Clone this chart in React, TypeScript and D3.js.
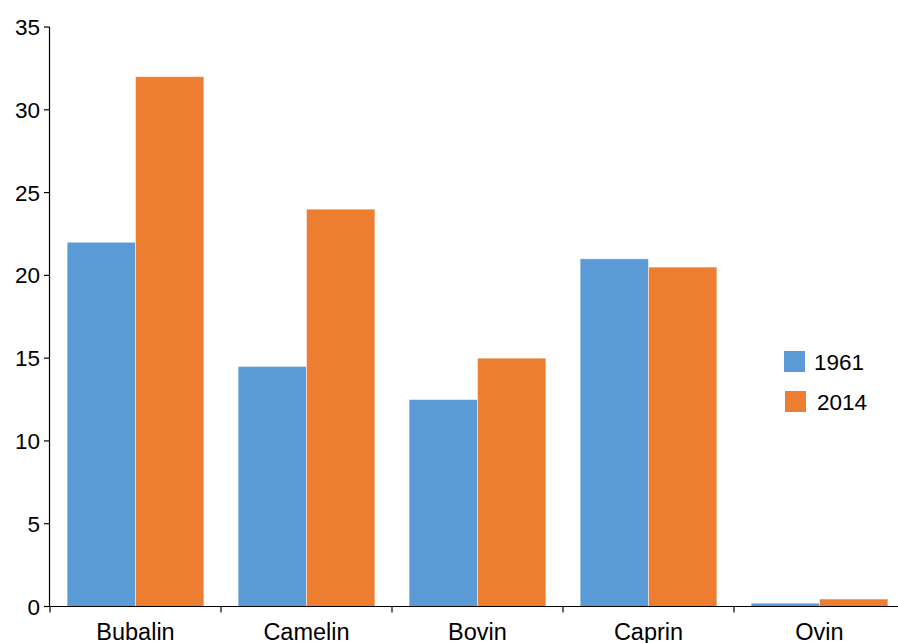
import React from "react";
import * as d3 from "d3";

const categories = ["Bubalin", "Camelin", "Bovin", "Caprin", "Ovin"];
const series = ["1961", "2014"];
const values1961 = [22, 14.5, 12.5, 21, 0.2];
const values2014 = [32, 24, 15, 20.5, 0.45];
const yTicks = [0, 5, 10, 15, 20, 25, 30, 35];
const colors = ["#5B9BD5", "#ED7D31"];

export default function App() {
  const W = 898, H = 643;
  const x = d3.scaleBand<string>().domain(categories).range([50, 905]).padding(0);
  const y = d3.scaleLinear().domain([0, 35]).range([606.5, 27]);
  const inner = d3.scaleBand<string>().domain(series).range([0, x.bandwidth()]).paddingOuter(0.25).paddingInner(0);
  const data = [values1961, values2014];
  const font = "Arial, 'Liberation Sans', sans-serif";
  const fs = 22.5;
  return (
    <svg width={W} height={H} style={{ position: "absolute", left: 0, top: 0 }} fontFamily={font}>
      {categories.map((c, i) =>
        series.map((s, j) => (
          <rect
            key={c + s}
            x={(x(c) as number) + (inner(s) as number)}
            y={y(data[j][i])}
            width={inner.bandwidth()}
            height={y(0) - y(data[j][i])}
            fill={colors[j]}
            stroke="rgba(255,255,255,0.6)"
            strokeWidth={0.8}
          />
        ))
      )}
      {/* y axis */}
      <line x1={49.5} x2={49.5} y1={y(35)} y2={y(0)} stroke="#000" strokeWidth={1.2} />
      {yTicks.map((t) => (
        <g key={t}>
          <line x1={44} x2={49.5} y1={y(t)} y2={y(t)} stroke="#000" strokeWidth={1.2} />
          <text x={40} y={y(t)} dy="0.36em" textAnchor="end" fontSize={fs} fill="#000">
            {t}
          </text>
        </g>
      ))}
      {/* x axis */}
      <line x1={49.5} x2={905} y1={y(0)} y2={y(0)} stroke="#000" strokeWidth={1.2} />
      {categories.map((c) => (
        <g key={c}>
          <line x1={(x(c) as number)} x2={(x(c) as number)} y1={y(0)} y2={y(0) + 6} stroke="#000" strokeWidth={1.2} />
          <text x={(x(c) as number) + x.bandwidth() / 2} y={640} textAnchor="middle" fontSize={23.5} fill="#000">
            {c}
          </text>
        </g>
      ))}
      {/* legend */}
      {series.map((s, j) => (
        <g key={s}>
          <rect x={784 + j} y={351 + j * 40} width={21} height={21} fill={colors[j]} />
          <text x={814 + j * 3} y={369.5 + j * 40} fontSize={fs} fill="#000">
            {s}
          </text>
        </g>
      ))}
    </svg>
  );
}
